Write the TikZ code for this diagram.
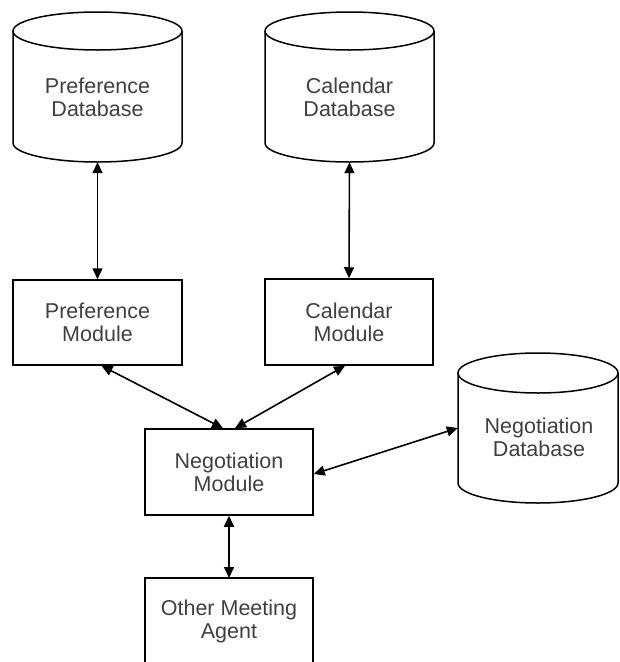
\documentclass[tikz,border=0pt]{standalone}
\usepackage{fontspec}
\setmainfont{Liberation Sans}
\usetikzlibrary{arrows.meta}
\begin{document}
\begin{tikzpicture}[x=1pt,y=-1pt,
  lbl/.style={text=black!75, font=\fontsize{21.5}{23}\selectfont, align=center, inner sep=0pt},
  modbox/.style={draw, line width=1.5pt, inner sep=0pt},
  region/.style={inner sep=0pt},
  cyl/.style={line width=1.5pt},
  link/.style={line width=1.6pt, {Triangle[length=11pt,width=10pt]}-{Triangle[length=11pt,width=10pt]}}]
\path[use as bounding box, clip] (0,0) rectangle (620,662);
\fill[white] (0,0) rectangle (620,662);
% Preference Database
\draw[cyl] (13,31) -- (13,143) arc[start angle=180,end angle=0,x radius=84.5,y radius=19] -- (182,31);
\draw[cyl] (97.5,31) ellipse[x radius=84.5,y radius=19];
\node[region, minimum width=169pt, minimum height=150pt] (pdb) at (97.5,87) {};
\node[lbl] (pdbt) at (97.5,97) {Preference\\Database};
% Calendar Database
\draw[cyl] (265,31) -- (265,143) arc[start angle=180,end angle=0,x radius=84.5,y radius=19] -- (434,31);
\draw[cyl] (349.5,31) ellipse[x radius=84.5,y radius=19];
\node[region, minimum width=169pt, minimum height=150pt] (cdb) at (349.5,87) {};
\node[lbl] (cdbt) at (349.5,97) {Calendar\\Database};
% Negotiation Database
\draw[cyl] (458,373) -- (458,483) arc[start angle=180,end angle=0,x radius=80,y radius=20] -- (618,373);
\draw[cyl] (538,373) ellipse[x radius=80,y radius=20];
\node[region, minimum width=160pt, minimum height=150pt] (ndb) at (538,428) {};
\node[lbl] (ndbt) at (539,437) {Negotiation\\Database};
% Modules
\node[modbox, minimum width=169pt, minimum height=85pt] (pm) at (97.5,322.5) {};
\node[lbl] at (pm) {Preference\\Module};
\node[modbox, minimum width=168pt, minimum height=86pt] (cm) at (349,322) {};
\node[lbl] at (cm) {Calendar\\Module};
\node[modbox, minimum width=168pt, minimum height=86pt] (nm) at (229,472) {};
\node[lbl] at (nm) {Negotiation\\Module};
\draw[line width=1.5pt] (145,700) -- (145,578) -- (313,578) -- (313,700);
\node[region, minimum width=168pt, minimum height=122pt] (oma) at (229,639) {};
\node[lbl] (omat) at (229,621) {Other Meeting\\Agent};
% Connectors
\coordinate (pmo) at ([xshift=4pt]pm.south);
\coordinate (cmo) at ([xshift=-4pt]cm.south);
\coordinate (nmi1) at ([xshift=-6pt]nm.north);
\coordinate (nmi2) at ([xshift=6pt]nm.north);
\coordinate (nme) at ([yshift=-2pt]nm.east);
\coordinate (omatop) at (229,578);
\draw[link] (pdb.south) -- (pm.north);
\draw[link] (cdb.south) -- (cm.north);
\draw[link] (pmo) -- (nmi1);
\draw[link] (cmo) -- (nmi2);
\draw[link] (ndb.west) -- (nme);
\draw[link] (nm.south) -- (omatop);
\end{tikzpicture}
\end{document}
